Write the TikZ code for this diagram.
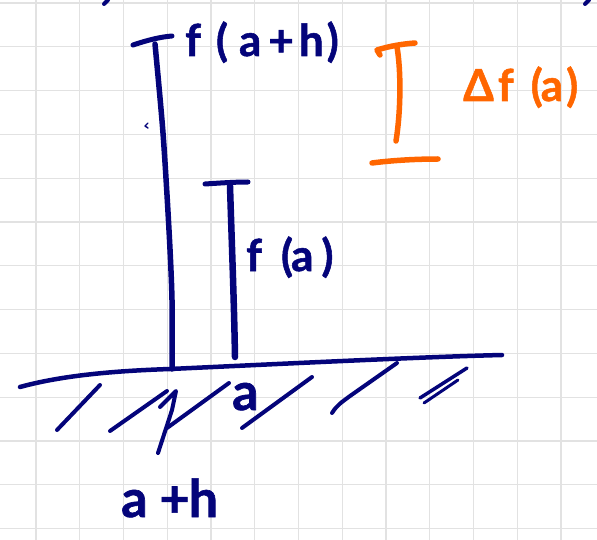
\documentclass[tikz,border=0pt]{standalone}
\usepackage{fontspec}
\setmainfont{Lato}
\definecolor{ink}{RGB}{4,4,122}
\definecolor{hl}{RGB}{255,102,0}
\definecolor{gridc}{RGB}{226,226,226}
\begin{document}
\begin{tikzpicture}[x=1pt,y=-1pt,
  gridline/.style={draw=gridc,line width=1.1pt},
  pen/.style={draw=ink,line width=#1,line cap=round,line join=round},
  pen/.default=5,
  opn/.style={draw=hl,line width=#1,line cap=round,line join=round},
  opn/.default=5.5,
  hand/.style={text=ink,font=\fontsize{44}{44}\selectfont\bfseries\addfontfeatures{FakeBold=1.2},inner sep=0pt,anchor=base west},
  bighand/.style={hand,font=\fontsize{52}{52}\selectfont\bfseries\addfontfeatures{FakeBold=1.2}},
  ohand/.style={hand,text=hl}]
\useasboundingbox (0,0) rectangle (597,540);
\fill[white] (0,0) rectangle (597,540);
% grid paper
\foreach \i in {0,...,12} \draw[gridline] ({36+43.75*\i},0) -- ({36+43.75*\i},540);
\foreach \j in {0,...,12} \draw[gridline] (0,{3+43.8*\j}) -- (597,{3+43.8*\j});
% fragments at the top edge
\draw[pen=4] (104,4) -- (108,0);
\draw[pen=4] (585,4) -- (589,0);
% tall bar f(a+h)
\draw[pen=5] (133,45) .. controls (148,40) and (160,37) .. (172,36);
\draw[pen=5.5] plot[smooth] coordinates {(155,44) (163,133) (169,230) (172,300) (172,369)};
\draw[pen=1.4] (148,123) -- (145,126) -- (148,128);
% short bar f(a)
\draw[pen=5] (205,184) .. controls (220,183) and (235,182) .. (248,182);
\draw[pen=6.5] (230,186) .. controls (232,250) and (234,300) .. (235,357);
% baseline
\draw[pen=4.5] (20,387) .. controls (60,376) and (110,371) .. (170,369) .. controls (300,363) and (420,357) .. (502,355);
% hatches
\draw[pen=4] (57,430) -- (100,385);
\draw[pen=4] (110,431) -- (167,391);
\draw[pen=4] (160,407) -- (176,391) -- (172,410) -- (158,453);
\draw[pen=4] (167,428) -- (229,383);
\draw[pen=4] (242,428) -- (312,377);
\draw[pen=4] (332,413) .. controls (337,405) and (342,402) .. (350,396) -- (397,363);
\draw[pen=3.5] (420,398) -- (467,368);
\draw[pen=3] (424,403) -- (458,380);
% orange bracket
\draw[opn] (380,55) -- (377,50) .. controls (390,46) and (402,44) .. (415,43);
\draw[opn] (397,47) .. controls (401,70) and (401,110) .. (396,141);
\draw[opn] (372,163) .. controls (395,160) and (420,159) .. (438,159);
% labels
\node[hand] (fah) at (185,56) {f\kern15pt(\kern11pt a\kern7pt+\kern5pt h\kern3pt)};
\node[hand] (fa) at (246,271) {f\kern19pt(\kern-2pt a\kern8pt)};
\node[bighand] (a) at (232,410) {a};
\node[bighand] (ah) at (121,517) {a\kern12pt+\kern-1pt h};
\node[ohand] (dfa) at (463,101) {Δ\kern4pt f\kern17pt(\kern-2pt a\kern3pt)};
\end{tikzpicture}
\end{document}
